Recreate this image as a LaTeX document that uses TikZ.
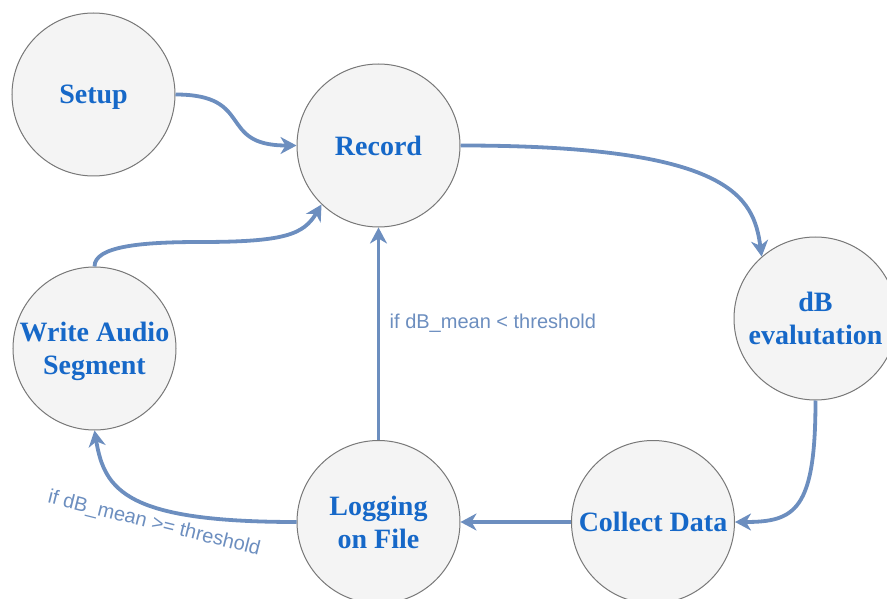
\documentclass[tikz,border=0pt]{standalone}
\usepackage{fontspec}
\setmainfont{Liberation Serif}
\setsansfont{Liberation Sans}
\usetikzlibrary{arrows.meta}
\definecolor{statefill}{RGB}{244,244,244}
\definecolor{stateline}{RGB}{120,120,120}
\definecolor{statetext}{RGB}{22,104,200}
\definecolor{flowblue}{RGB}{108,142,191}

\begin{document}
\begin{tikzpicture}[
    x=1pt, y=1pt,
    > = {Stealth[length=16pt, width=17pt, inset=5pt]},
    state/.style = {circle, draw=stateline, line width=1pt, fill=statefill,
      minimum size=163pt, inner sep=0pt, align=center, text=statetext,
      text depth=0pt, font=\fontsize{28}{33}\selectfont\bfseries},
    flow/.style = {line width=3.8pt, draw=flowblue, ->},
    cond/.style = {text=flowblue, font=\fontsize{20}{24}\selectfont\sffamily}
    ]
    \useasboundingbox (0,0) rectangle (887,-599);
    \node[state] (setup) at (93.5,-94.5) {Setup};
    \node[state] (record) at (378.5,-145.5) {Record};
    \node[state] (dbeval) at (815.5,-318.5) {dB\\evalutation};
    \node[state] (collect) at (653,-522) {Collect Data};
    \node[state] (logging) at (378.5,-522) {Logging\\on File};
    \node[state] (write) at (94.5,-348.5) {Write Audio\\Segment};

    \draw[flow] (setup.east) .. controls +(80,0) and +(-80,0) .. (record.west);
    \draw[flow] (record.east) .. controls +(270,0) and +(-8,60) .. (dbeval.131);
    \draw[flow] (dbeval.south) .. controls +(0,-110) and +(60,0) .. (collect.east);
    \draw[flow] (collect.west) -- (logging.east);
    \draw[flow] (logging.north) -- (record.south)
      node[cond, pos=0.55, right, xshift=6pt] {if dB\_mean < threshold};
    \draw[flow] (logging.west) .. controls +(-170,0) and +(10,-60) .. (write.south);
    \draw[flow] (write.north) .. controls +(0,20) and +(-60,0) .. (200,-242)
      .. controls +(85,0) and +(-18,-30) .. (record.226);
    \node[cond, rotate=-14] (ifabove) at (154,-524) {if dB\_mean >= threshold};
\end{tikzpicture}
\end{document}
